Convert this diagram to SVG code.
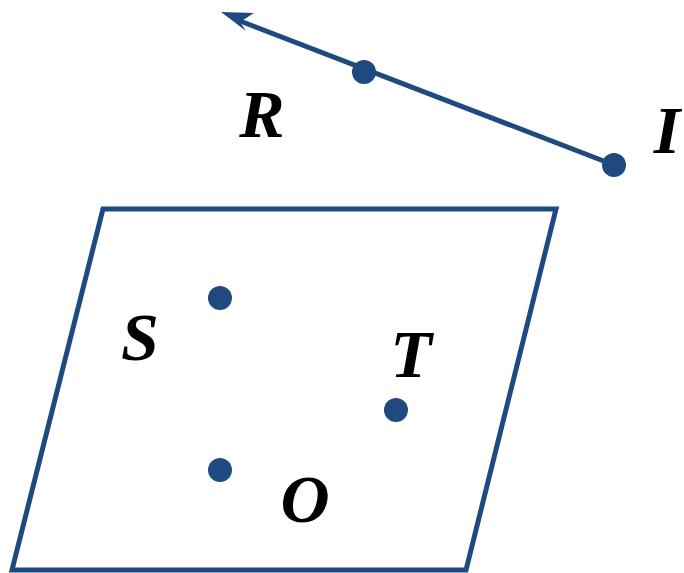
<svg xmlns="http://www.w3.org/2000/svg" width="684" height="573" viewBox="0 0 684 573">
<style>
.ln{fill:none;stroke:#1f4a80;stroke-width:5;stroke-linejoin:miter}
.dot{fill:#1f4a80}
.lb{font-family:"Liberation Serif","DejaVu Serif",serif;font-weight:bold;font-style:italic;font-size:68px;fill:#000;text-anchor:middle}
</style>
<g id="plane"><polygon class="ln" points="103,209 556,209 466,570 12,570"/></g>
<g id="connectors">
<line class="ln" x1="614" y1="165" x2="240" y2="21"/>
<path d="M221,12 L254,13 L240,22 L246,31 Z" fill="#1f4a80"/>
</g>
<g id="R"><circle class="dot" cx="364" cy="72" r="12"/><text class="lb" x="262" y="137">R</text></g>
<g id="I"><circle class="dot" cx="614" cy="165" r="12"/><text class="lb" x="667" y="153">I</text></g>
<g id="S"><circle class="dot" cx="220" cy="298" r="12"/><text class="lb" x="140" y="360">S</text></g>
<g id="T"><circle class="dot" cx="396" cy="410" r="12"/><text class="lb" x="411" y="377">T</text></g>
<g id="O"><circle class="dot" cx="220" cy="470" r="12"/><text class="lb" x="305" y="522">O</text></g>
</svg>
